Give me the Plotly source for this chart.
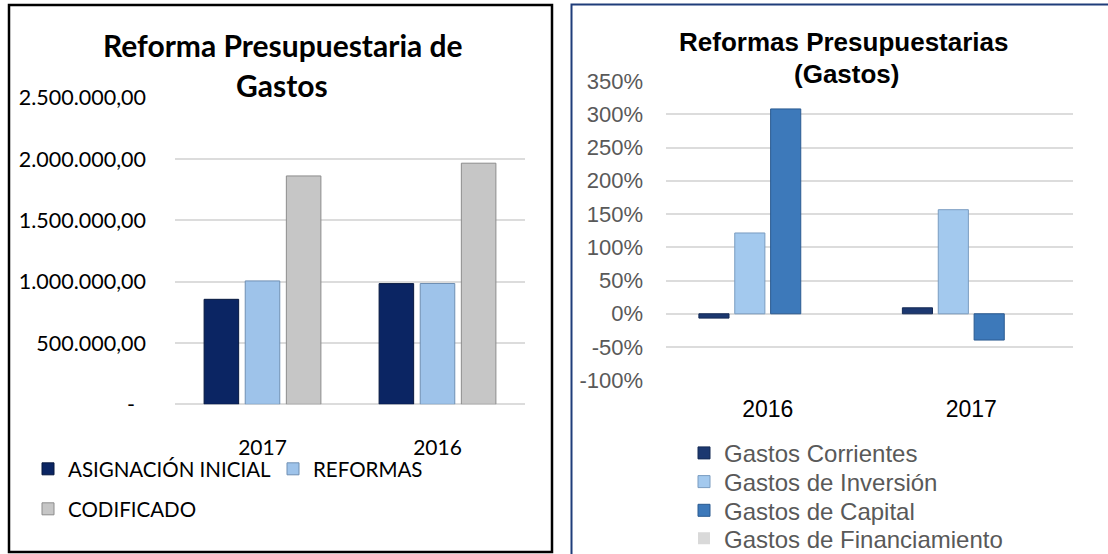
import plotly.graph_objects as go

W, H = 1108, 554

# ---- Left chart data ----
left_years = ["2017", "2016"]
asignacion_inicial = [856000, 984000]
reformas = [1006000, 985000]
codificado = [1862000, 1966000]
left_tickvals = [0, 500000, 1000000, 1500000, 2000000, 2500000]
left_ticktext = ["-\u00a0\u00a0", "500.000,00", "1.000.000,00", "1.500.000,00",
                 "2.000.000,00", "2.500.000,00"]

# ---- Right chart data ----
right_years = ["2016", "2017"]
gastos_corrientes = [-0.065, 0.09]
gastos_inversion = [1.215, 1.565]
gastos_capital = [3.08, -0.395]
gastos_financiamiento = [0, 0]
right_tickvals = [-1.0, -0.5, 0, 0.5, 1.0, 1.5, 2.0, 2.5, 3.0, 3.5]
right_ticktext = ["-100%", "-50%", "0%", "50%", "100%", "150%", "200%", "250%", "300%", "350%"]


def px_x(p):
    return p / W


def px_y(p):
    return 1 - p / H


LEFT_FONT = "Lato, Carlito, Calibri, sans-serif"
RIGHT_FONT = "Liberation Sans, Arial, sans-serif"

fig = go.Figure()

# left traces
fig.add_bar(x=left_years, y=asignacion_inicial, name="ASIGNACIÓN INICIAL",
            marker=dict(color="#0b2563", line=dict(color="#06183f", width=1)),
            xaxis="x", yaxis="y", legend="legend")
fig.add_bar(x=left_years, y=reformas, name="REFORMAS",
            marker=dict(color="#9ec3ea", line=dict(color="#6f8fb3", width=1)),
            xaxis="x", yaxis="y", legend="legend")
fig.add_bar(x=left_years, y=codificado, name="CODIFICADO",
            marker=dict(color="#c6c6c6", line=dict(color="#8c8c8c", width=1)),
            xaxis="x", yaxis="y", legend="legend2")

# right traces
fig.add_bar(x=right_years, y=gastos_corrientes, name="Gastos Corrientes",
            marker=dict(color="#1c3870", line=dict(color="#142a55", width=1)),
            xaxis="x2", yaxis="y2", legend="legend3")
fig.add_bar(x=right_years, y=gastos_inversion, name="Gastos de Inversión",
            marker=dict(color="#a3c9ee", line=dict(color="#7a9cc0", width=1)),
            xaxis="x2", yaxis="y2", legend="legend4")
fig.add_bar(x=right_years, y=gastos_capital, name="Gastos de Capital",
            marker=dict(color="#3d79ba", line=dict(color="#2a5a90", width=1)),
            xaxis="x2", yaxis="y2", legend="legend5")
fig.add_bar(x=right_years, y=gastos_financiamiento, name="Gastos de Financiamiento",
            marker=dict(color="#d9d9d9", line=dict(color="#d9d9d9", width=0)),
            xaxis="x2", yaxis="y2", legend="legend6")

grid = "#dcdcdc"


def right_legend(yc):
    return dict(orientation="v", x=px_x(684), y=px_y(yc), xanchor="left", yanchor="middle",
                font=dict(family=RIGHT_FONT, size=24, color="#595959"),
                bgcolor="rgba(0,0,0,0)")


fig.update_layout(
    width=W, height=H,
    margin=dict(l=0, r=0, t=0, b=0, pad=0, autoexpand=False),
    paper_bgcolor="white", plot_bgcolor="white",
    barmode="group", bargap=0.295, bargroupgap=0.16,
    showlegend=True,
    xaxis=dict(domain=[px_x(175), px_x(525)], anchor="y", type="category",
               showline=False, ticks="", showgrid=False,
               tickfont=dict(family=LEFT_FONT, size=21, color="black"),
               ticklabelstandoff=29),
    yaxis=dict(domain=[px_y(404.3), px_y(97.7)], anchor="x", range=[0, 2500000],
               tickvals=left_tickvals, ticktext=left_ticktext,
               showgrid=True, gridcolor=grid, gridwidth=2,
               zeroline=True, zerolinecolor=grid, zerolinewidth=2,
               showline=False, ticks="",
               tickfont=dict(family=LEFT_FONT, size=21.5, color="black"),
               ticklabelstandoff=28),
    xaxis2=dict(domain=[px_x(666), px_x(1073)], anchor="y2", type="category",
                showline=False, ticks="", showgrid=False,
                tickfont=dict(family=RIGHT_FONT, size=23, color="black"),
                ticklabelstandoff=13),
    yaxis2=dict(domain=[px_y(380.3), px_y(81)], anchor="x2", range=[-1.0, 3.5],
                tickvals=right_tickvals, ticktext=right_ticktext,
                showgrid=True, gridcolor=grid, gridwidth=2,
                zeroline=True, zerolinecolor=grid, zerolinewidth=2,
                showline=False, ticks="",
                tickfont=dict(family=RIGHT_FONT, size=22, color="#595959"),
                ticklabelstandoff=22),
    legend=dict(orientation="h", x=px_x(28), y=px_y(469), xanchor="left", yanchor="middle",
                font=dict(family=LEFT_FONT, size=20.5, color="black"),
                bgcolor="rgba(0,0,0,0)", entrywidth=200, entrywidthmode="pixels",
                traceorder="normal"),
    legend2=dict(orientation="h", x=px_x(28), y=px_y(509), xanchor="left", yanchor="middle",
                 font=dict(family=LEFT_FONT, size=20.5, color="black"),
                 bgcolor="rgba(0,0,0,0)"),
    legend3=right_legend(453.3),
    legend4=right_legend(482),
    legend5=right_legend(510.7),
    legend6=right_legend(538.7),
)

# titles
fig.add_annotation(text="<b>Reforma Presupuestaria de</b>", xref="paper", yref="paper",
                   x=px_x(283), y=px_y(45), xanchor="center", yanchor="middle",
                   showarrow=False, font=dict(family=LEFT_FONT, size=30, color="black"))
fig.add_annotation(text="<b>Gastos</b>", xref="paper", yref="paper",
                   x=px_x(282), y=px_y(85), xanchor="center", yanchor="middle",
                   showarrow=False, font=dict(family=LEFT_FONT, size=30, color="black"))
fig.add_annotation(text="<b>Reformas Presupuestarias</b>", xref="paper", yref="paper",
                   x=px_x(844), y=px_y(42), xanchor="center", yanchor="middle",
                   showarrow=False, font=dict(family=RIGHT_FONT, size=26, color="black"))
fig.add_annotation(text="<b>(Gastos)</b>", xref="paper", yref="paper",
                   x=px_x(846), y=px_y(74), xanchor="center", yanchor="middle",
                   showarrow=False, font=dict(family=RIGHT_FONT, size=26, color="black"))

# chart borders
fig.add_shape(type="rect", xref="paper", yref="paper",
              x0=px_x(9), x1=px_x(552), y0=px_y(552), y1=px_y(5),
              line=dict(color="black", width=2.5), fillcolor="rgba(0,0,0,0)", layer="above")
fig.add_shape(type="rect", xref="paper", yref="paper",
              x0=px_x(571.5), x1=px_x(1130), y0=px_y(580), y1=px_y(4.5),
              line=dict(color="#1f3d7a", width=2), fillcolor="rgba(0,0,0,0)", layer="above")

fig.write_html("out.html", config={"displayModeBar": False},
               post_script="document.body.style.margin='0px';document.body.style.overflow='hidden';")
